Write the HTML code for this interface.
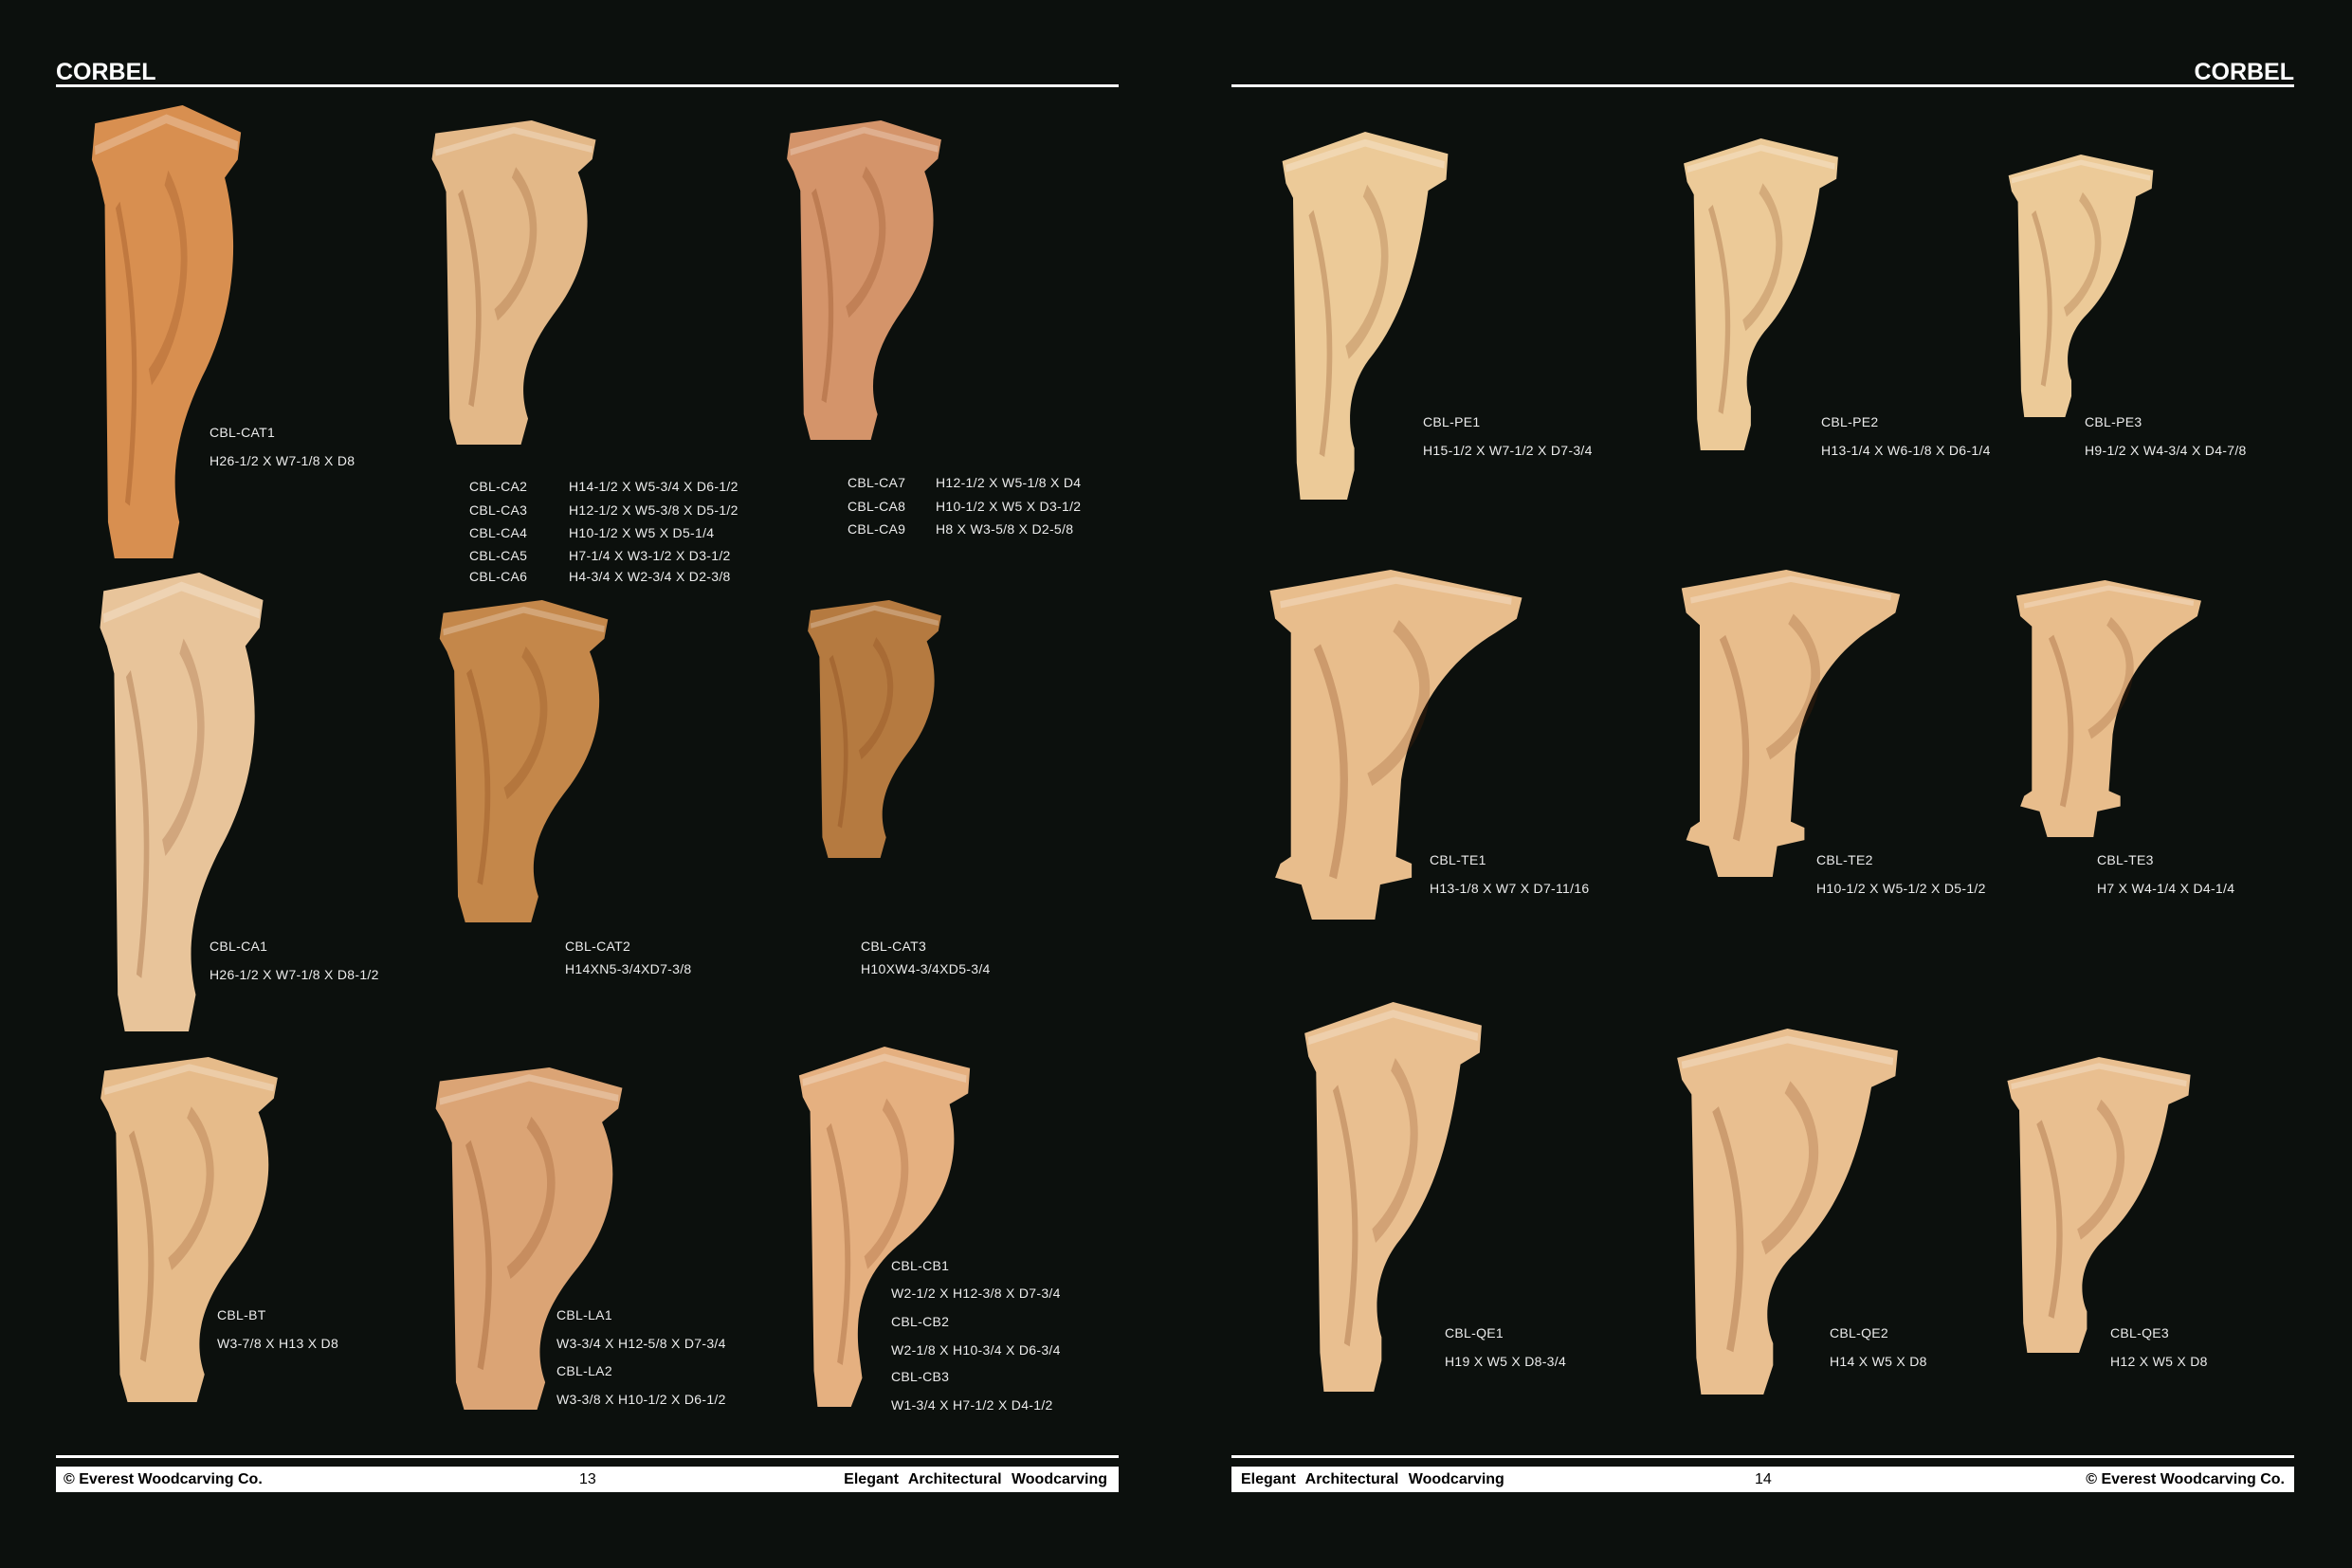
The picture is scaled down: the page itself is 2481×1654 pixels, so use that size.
<!DOCTYPE html>
<html><head><meta charset="utf-8">
<style>
html,body{margin:0;padding:0}
body{width:2481px;height:1654px;background:#0c100d;position:relative;overflow:hidden;font-family:"Liberation Sans",Arial,sans-serif}
.t{position:absolute;color:#ececec;font-size:14px;line-height:16px;white-space:nowrap;letter-spacing:0.3px}
.h{position:absolute;color:#fff;font-weight:bold;font-size:25px;line-height:25px;top:64px}
.ln{position:absolute;background:#fff}
.bar{position:absolute;background:#fff;top:1547px;height:27px;font-weight:bold;font-size:16px;line-height:27px;color:#000}
.bar span{position:absolute;top:0}
svg.c{position:absolute}
</style></head><body>
<div class="h" style="left:59px">CORBEL</div>
<div class="h" style="right:61px">CORBEL</div>
<div class="ln" style="left:59px;width:1121px;top:89px;height:3px"></div>
<div class="ln" style="left:1299px;width:1121px;top:89px;height:3px"></div>
<div class="ln" style="left:59px;width:1121px;top:1535px;height:3px"></div>
<div class="ln" style="left:1299px;width:1121px;top:1535px;height:3px"></div>
<div class="bar" style="left:59px;width:1121px"><span style="left:8px">© Everest Woodcarving Co.</span><span style="left:552px;font-weight:normal">13</span><span style="right:12px;word-spacing:6px">Elegant Architectural Woodcarving</span></div>
<div class="bar" style="left:1299px;width:1121px"><span style="left:10px;word-spacing:6px">Elegant Architectural Woodcarving</span><span style="left:552px;font-weight:normal">14</span><span style="right:10px">© Everest Woodcarving Co.</span></div>

<div id="cs"></div>

<div class="t" style="left:221px;top:448px">CBL-CAT1</div>
<div class="t" style="left:221px;top:478px">H26-1/2 X W7-1/8 X D8</div>

<div class="t" style="left:495px;top:505px">CBL-CA2</div><div class="t" style="left:600px;top:505px">H14-1/2 X W5-3/4 X D6-1/2</div>
<div class="t" style="left:495px;top:530px">CBL-CA3</div><div class="t" style="left:600px;top:530px">H12-1/2 X W5-3/8 X D5-1/2</div>
<div class="t" style="left:495px;top:554px">CBL-CA4</div><div class="t" style="left:600px;top:554px">H10-1/2 X W5 X D5-1/4</div>
<div class="t" style="left:495px;top:578px">CBL-CA5</div><div class="t" style="left:600px;top:578px">H7-1/4 X W3-1/2 X D3-1/2</div>
<div class="t" style="left:495px;top:600px">CBL-CA6</div><div class="t" style="left:600px;top:600px">H4-3/4 X W2-3/4 X D2-3/8</div>

<div class="t" style="left:894px;top:501px">CBL-CA7</div><div class="t" style="left:987px;top:501px">H12-1/2 X W5-1/8 X D4</div>
<div class="t" style="left:894px;top:526px">CBL-CA8</div><div class="t" style="left:987px;top:526px">H10-1/2 X W5 X D3-1/2</div>
<div class="t" style="left:894px;top:550px">CBL-CA9</div><div class="t" style="left:987px;top:550px">H8 X W3-5/8 X D2-5/8</div>

<div class="t" style="left:221px;top:990px">CBL-CA1</div>
<div class="t" style="left:221px;top:1020px">H26-1/2 X W7-1/8 X D8-1/2</div>
<div class="t" style="left:596px;top:990px">CBL-CAT2</div>
<div class="t" style="left:596px;top:1014px">H14XN5-3/4XD7-3/8</div>
<div class="t" style="left:908px;top:990px">CBL-CAT3</div>
<div class="t" style="left:908px;top:1014px">H10XW4-3/4XD5-3/4</div>

<div class="t" style="left:229px;top:1379px">CBL-BT</div>
<div class="t" style="left:229px;top:1409px">W3-7/8 X H13 X D8</div>
<div class="t" style="left:587px;top:1379px">CBL-LA1</div>
<div class="t" style="left:587px;top:1409px">W3-3/4 X H12-5/8 X D7-3/4</div>
<div class="t" style="left:587px;top:1438px">CBL-LA2</div>
<div class="t" style="left:587px;top:1468px">W3-3/8 X H10-1/2 X D6-1/2</div>

<div class="t" style="left:940px;top:1327px">CBL-CB1</div>
<div class="t" style="left:940px;top:1356px">W2-1/2 X H12-3/8 X D7-3/4</div>
<div class="t" style="left:940px;top:1386px">CBL-CB2</div>
<div class="t" style="left:940px;top:1416px">W2-1/8 X H10-3/4 X D6-3/4</div>
<div class="t" style="left:940px;top:1444px">CBL-CB3</div>
<div class="t" style="left:940px;top:1474px">W1-3/4 X H7-1/2 X D4-1/2</div>

<div class="t" style="left:1501px;top:437px">CBL-PE1</div>
<div class="t" style="left:1501px;top:467px">H15-1/2 X W7-1/2 X D7-3/4</div>
<div class="t" style="left:1921px;top:437px">CBL-PE2</div>
<div class="t" style="left:1921px;top:467px">H13-1/4 X W6-1/8 X D6-1/4</div>
<div class="t" style="left:2199px;top:437px">CBL-PE3</div>
<div class="t" style="left:2199px;top:467px">H9-1/2 X W4-3/4 X D4-7/8</div>

<div class="t" style="left:1508px;top:899px">CBL-TE1</div>
<div class="t" style="left:1508px;top:929px">H13-1/8 X W7 X D7-11/16</div>
<div class="t" style="left:1916px;top:899px">CBL-TE2</div>
<div class="t" style="left:1916px;top:929px">H10-1/2 X W5-1/2 X D5-1/2</div>
<div class="t" style="left:2212px;top:899px">CBL-TE3</div>
<div class="t" style="left:2212px;top:929px">H7 X W4-1/4 X D4-1/4</div>

<div class="t" style="left:1524px;top:1398px">CBL-QE1</div>
<div class="t" style="left:1524px;top:1428px">H19 X W5 X D8-3/4</div>
<div class="t" style="left:1930px;top:1398px">CBL-QE2</div>
<div class="t" style="left:1930px;top:1428px">H14 X W5 X D8</div>
<div class="t" style="left:2226px;top:1398px">CBL-QE3</div>
<div class="t" style="left:2226px;top:1428px">H12 X W5 X D8</div>

<script>
var C=[
[90,111,171,478,'#d88f50',0],[448,127,188,342,'#e3b888',0],[823,127,177,337,'#d4946a',0],
[98,604,187,484,'#e8c49a',0],[456,633,193,340,'#c4874a',0],[846,633,153,272,'#b57a40',0],
[98,1115,203,364,'#e6bb8a',0],[451,1126,214,361,'#dba475',0],[835,1104,196,380,'#e5b080',3],
[1345,139,190,388,'#ecca98',1],[1769,146,177,329,'#ecca98',1],[2112,163,166,277,'#ecca98',1],
[1334,601,277,369,'#e8bd8c',2],[1769,601,240,324,'#e8bd8c',2],[2123,612,203,271,'#e8bd8c',2],
[1368,1057,203,411,'#e9bf90',1],[1759,1085,253,386,'#e9bf90',1],[2109,1115,210,312,'#e9bf90',1]];
var P=[
'M6,4 L60,0 L96,6 L94,12 L86,16 C96,30 92,46 72,60 C56,72 52,82 58,92 L54,100 L18,100 L14,92 L12,22 L8,16 L4,12 Z',
'M4,8 L50,0 L96,6 L95,13 L85,16 C80,34 72,50 52,62 C40,70 40,80 44,86 L44,92 L40,100 L14,100 L12,90 L10,18 L6,14 Z',
'M2,6 L48,0 L98,8 L96,14 L88,18 C70,26 56,40 52,60 L50,82 L56,84 L56,88 L44,90 L42,100 L18,100 L14,90 L4,88 L6,84 L10,82 L10,18 L4,14 Z',
'M4,8 L50,0 L96,6 L95,13 L85,16 C92,30 84,44 60,54 C40,62 34,72 36,84 L38,92 L32,100 L14,100 L12,90 L10,18 L6,14 Z'];
var h='';
C.forEach(function(c){
h+='<svg class="c" style="left:'+c[0]+'px;top:'+c[1]+'px" width="'+c[2]+'" height="'+c[3]+'" viewBox="0 0 100 100" preserveAspectRatio="none">'+
'<path d="'+P[c[5]]+'" fill="'+c[4]+'"/>'+
'<path d="M6,10 L50,3 L94,9" stroke="rgba(255,255,255,0.25)" stroke-width="2" fill="none"/>'+
'<path d="M20,22 C30,40 34,60 26,88" stroke="rgba(120,50,10,0.25)" stroke-width="3" fill="none"/>'+
'<path d="M50,16 C70,30 60,50 40,60" stroke="rgba(120,50,10,0.2)" stroke-width="4" fill="none"/></svg>';
});
document.getElementById('cs').innerHTML=h;
</script>
</body></html>
